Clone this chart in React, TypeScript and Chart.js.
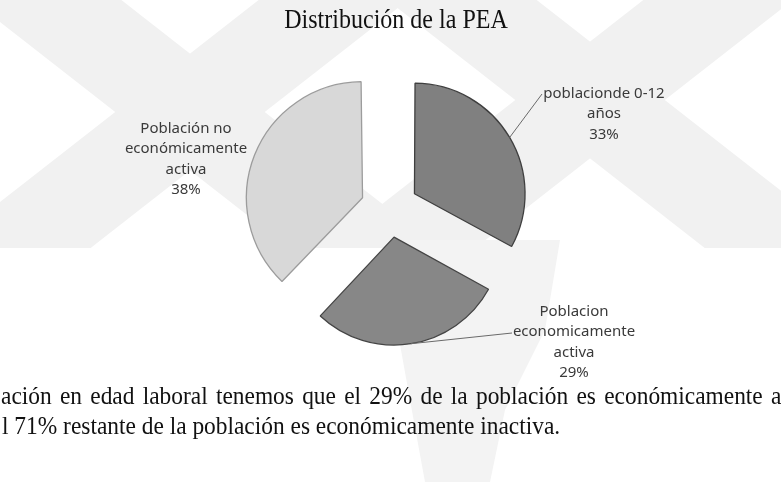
import React, { useEffect, useRef } from "react";
import { Chart, registerables } from "chart.js";

Chart.register(...registerables);

// ---- data ----
const categories = [
  "poblacionde 0-12 años",
  "Poblacion economicamente activa",
  "Población no económicamente activa",
];
const values = [33, 29, 38];
const labelNameLines = [
  ["poblacionde 0-12", "años"],
  ["Poblacion", "economicamente", "activa"],
  ["Población no", "económicamente", "activa"],
];
const sliceColors = ["#808080", "#878787", "#d8d8d8"];
const sliceBorders = ["#3f3f3f", "#444444", "#9c9c9c"];
const chartTitle = "Distribución de la PEA";
const bodyLines = [
  "ación en edad laboral tenemos que el 29% de la población es económicamente activa",
  "l 71% restante de la población es económicamente inactiva.",
];

const W = 781;
const H = 482;

function drawX(ctx: CanvasRenderingContext2D, cx: number, cy: number, deg: number, w: number) {
  for (const sgn of [1, -1]) {
    const a = (sgn * deg * Math.PI) / 180;
    const dx = Math.cos(a), dy = Math.sin(a);
    const nx = -dy, ny = dx;
    const L = 700;
    ctx.beginPath();
    ctx.moveTo(cx - L * dx + w * nx, cy - L * dy + w * ny);
    ctx.lineTo(cx + L * dx + w * nx, cy + L * dy + w * ny);
    ctx.lineTo(cx + L * dx - w * nx, cy + L * dy - w * ny);
    ctx.lineTo(cx - L * dx - w * nx, cy - L * dy - w * ny);
    ctx.closePath();
    ctx.fill();
  }
}

function arcMidPoint(el: any) {
  const p = el.getProps(["x", "y", "startAngle", "endAngle", "outerRadius", "circumference"], true);
  const off = ((el.options && el.options.offset) || 0) / 4;
  const circ = p.endAngle - p.startAngle;
  const fix = 1 - Math.sin(Math.min(Math.PI, circ));
  const r = p.outerRadius + off * fix;
  const mid = (p.startAngle + p.endAngle) / 2;
  return { x: p.x + Math.cos(mid) * (off + r), y: p.y + Math.sin(mid) * (off + r) };
}

const decorPlugin = {
  id: "decor",
  beforeDraw(chart: any) {
    const ctx: CanvasRenderingContext2D = chart.ctx;
    ctx.save();
    ctx.fillStyle = "#ffffff";
    ctx.fillRect(0, 0, W, H);
    // scanned watermark (faint)
    ctx.save();
    ctx.beginPath();
    ctx.rect(0, 0, W, 248);
    ctx.clip();
    ctx.fillStyle = "#f1f1f1";
    drawX(ctx, 190, 112, 38, 46);
    drawX(ctx, 590, 100, 38, 46);
    ctx.restore();
    ctx.fillStyle = "#f3f3f3";
    ctx.beginPath();
    ctx.moveTo(405, 240);
    ctx.lineTo(560, 240);
    ctx.lineTo(545, 330);
    ctx.lineTo(505, 410);
    ctx.lineTo(490, 482);
    ctx.lineTo(425, 482);
    ctx.lineTo(410, 400);
    ctx.lineTo(392, 300);
    ctx.closePath();
    ctx.fill();
    ctx.restore();
  },
  afterDraw(chart: any) {
    const ctx: CanvasRenderingContext2D = chart.ctx;
    const meta = chart.getDatasetMeta(0);
    ctx.save();

    // title
    ctx.fillStyle = "#111111";
    ctx.font = '27px "Liberation Serif", "Times New Roman", serif';
    ctx.textAlign = "center";
    ctx.textBaseline = "alphabetic";
    ctx.save();
    ctx.translate(396, 28);
    ctx.scale(0.89, 1);
    ctx.fillText(chartTitle, 0, 0);
    ctx.restore();

    // slice labels
    const anchors = [
      { cx: 604, base: 98, lead: { x: 542, y: 94 } },
      { cx: 574, base: 316, lead: { x: 512, y: 333 } },
      { cx: 186, base: 133, lead: null as any },
    ];
    ctx.font = '15px "Noto Sans", sans-serif';
    ctx.fillStyle = "#3a3a3a";
    ctx.textAlign = "center";
    labelNameLines.forEach((lines, i) => {
      const all = [...lines, `${values[i]}%`];
      const a = anchors[i];
      all.forEach((t, k) => {
        ctx.fillText(t, a.cx, a.base + k * 20.3);
      });
      if (a.lead && meta.data[i]) {
        const p = arcMidPoint(meta.data[i]);
        ctx.strokeStyle = "#6a6a6a";
        ctx.lineWidth = 1;
        ctx.beginPath();
        ctx.moveTo(a.lead.x, a.lead.y);
        ctx.lineTo(p.x, p.y);
        ctx.stroke();
      }
    });

    // body text
    ctx.fillStyle = "#111111";
    ctx.font = '26px "Liberation Serif", "Times New Roman", serif';
    ctx.textAlign = "left";
    const sx = 0.9;
    const words = bodyLines[0].split(" ");
    const widths = words.map((w) => ctx.measureText(w).width);
    const targetLast = 770 / sx;
    const before = widths.slice(0, -1).reduce((s, v) => s + v, 0);
    const gap = (targetLast - before) / (words.length - 1);
    ctx.save();
    ctx.translate(1, 404);
    ctx.scale(sx, 1);
    let xx = 0;
    words.forEach((w, i) => {
      ctx.fillText(w, xx, 0);
      xx += widths[i] + gap;
    });
    ctx.restore();
    ctx.save();
    ctx.translate(2, 434);
    ctx.scale(sx, 1);
    ctx.fillText(bodyLines[1], 0, 0);
    ctx.restore();

    ctx.restore();
  },
};

export default function App() {
  const ref = useRef<HTMLCanvasElement | null>(null);
  useEffect(() => {
    if (!ref.current) return;
    const chart = new Chart(ref.current, {
      type: "pie",
      data: {
        labels: categories,
        datasets: [
          {
            data: values,
            backgroundColor: sliceColors,
            borderColor: sliceBorders,
            borderWidth: 1.3,
            offset: 116,
            hoverOffset: 0,
            radius: 107,
            clip: false,
          } as any,
        ],
      },
      options: {
        animation: false,
        responsive: false,
        events: [],
        layout: { padding: { left: 0, right: 2, top: 0, bottom: 65 } },
        plugins: {
          legend: { display: false },
          title: { display: false },
          tooltip: { enabled: false },
        },
      } as any,
      plugins: [decorPlugin],
    });
    return () => chart.destroy();
  }, []);
  return (
    <div style={{ position: "absolute", left: 0, top: 0, width: W, height: H, background: "#fff" }}>
      <canvas ref={ref} width={W} height={H} style={{ display: "block", width: W, height: H }} />
    </div>
  );
}
